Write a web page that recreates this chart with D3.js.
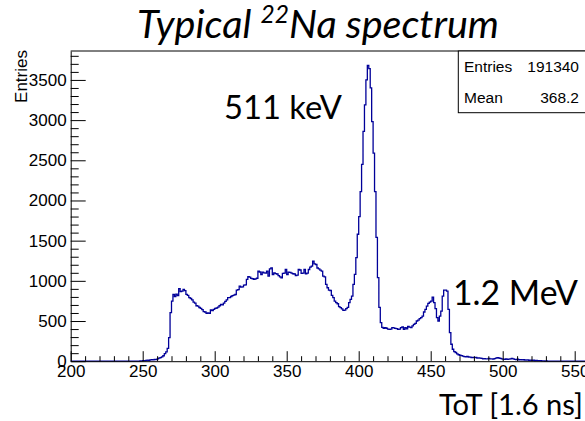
<!DOCTYPE html>
<html>
<head>
<meta charset="utf-8">
<script src="https://cdn.jsdelivr.net/npm/d3@7/dist/d3.min.js"></script>
<style>
  html, body { margin: 0; padding: 0; background: #ffffff; }
  svg { display: block; }
</style>
</head>
<body>
<svg id="chart" width="585" height="421"></svg>
<script>
// ToT histogram of a 22Na source, 1-unit bins from 200 to 600.
const binLow = 200;
const binHigh = 600;
const firstFilledBin = 246;
const counts = [
  2, 0, 3, 4, 6, 8, 10, 14, 12, 16,            // 246-255
  18, 17, 22, 20, 28, 38, 45, 55, 68, 95,      // 256-265
  115, 160, 294, 604, 748, 831, 805, 835, 815, 902,   // 266-275
  865, 872, 893, 878, 831, 818, 792, 780, 762, 736,   // 276-285
  722, 690, 686, 668, 658, 642, 617, 612, 596, 602,   // 286-295
  596, 637, 630, 645, 658, 662, 672, 690, 707, 700,   // 296-305
  722, 745, 762, 790, 792, 805, 815, 822, 830, 885,   // 306-315
  890, 934, 922, 926, 947, 950, 1017, 1051, 1045, 1030, // 316-325
  1026, 1020, 1025, 1032, 1120, 1110, 1079, 1108, 1100, 1095, // 326-335
  1120, 1058, 1150, 1162, 1079, 1100, 1090, 1085, 1066, 1050, // 336-345
  1038, 1092, 1095, 1141, 1079, 1108, 1105, 1095, 1088, 1085, // 346-355
  1066, 1070, 1141, 1135, 1092, 1095, 1141, 1088, 1095, 1141, // 356-365
  1170, 1183, 1245, 1210, 1203, 1160, 1150, 1133, 1120, 1058, // 366-375
  1050, 955, 914, 885, 880, 820, 790, 748, 728, 715,          // 376-385
  680, 666, 650, 633, 635, 655, 670, 728, 770, 810,           // 386-395
  955, 1080, 1290, 1580, 1800, 2110, 2450, 2860, 3190, 3500,  // 396-405
  3680, 3640, 3400, 2980, 2590, 2110, 1540, 1040, 670, 480,   // 406-415
  420, 410, 418, 410, 400, 397, 400, 418, 415, 408,           // 416-425
  405, 397, 400, 418, 428, 397, 418, 403, 432, 425,           // 426-435
  418, 440, 459, 471, 500, 512, 530, 542, 562, 612,           // 436-445
  645, 686, 720, 735, 748, 798, 728, 654, 542, 500,           // 446-455
  560, 624, 810, 885, 885, 872, 645, 356, 211, 149,           // 456-465
  120, 108, 90, 80, 74, 70, 62, 58, 55, 60,                   // 466-475
  52, 50, 46, 48, 44, 46, 40, 42, 38, 34,                     // 476-485
  30, 32, 28, 30, 34, 28, 30, 26, 32, 38,                     // 486-495
  45, 40, 35, 28, 26, 24, 28, 22, 25, 30,                     // 496-505
  35, 28, 22, 20, 24, 18, 20, 16, 18, 15,                     // 506-515
  14, 16, 12, 14, 10, 12, 9, 10, 8, 7,                        // 516-525
  6, 4, 3, 2, 3, 1, 0, 0, 0, 0,                               // 526-535
  0, 0, 0, 0, 0, 2, 0, 0, 0, 0,                               // 536-545
  1, 0, 0, 0, 0, 0, 0, 2, 0, 0                                // 546-555
];

const xMajorTicks = [200, 250, 300, 350, 400, 450, 500, 550];
const yMajorTicks = [0, 500, 1000, 1500, 2000, 2500, 3000, 3500];
const statsRows = [["Entries", "191340"], ["Mean", "368.2"]];
const titleParts = ["Typical ", "22", "Na spectrum"];
const peakLabels = ["511 keV", "1.2 MeV"];
const xTitle = "ToT [1.6 ns]";
const yTitle = "Entries";

// full bin content list 200..600
const bins = [];
for (let b = binLow; b < binHigh; b++) {
  const i = b - firstFilledBin;
  bins.push({ lo: b, hi: b + 1, n: (i >= 0 && i < counts.length) ? counts[i] : 0 });
}

const svg = d3.select("#chart");
svg.append("rect").attr("width", 585).attr("height", 421).attr("fill", "#ffffff");

const x = d3.scaleLinear().domain([binLow, binHigh]).range([70.7, 646.7]);
const y = d3.scaleLinear().domain([0, 3860]).range([361.2, 51]);

const rootFont = "'Liberation Sans', Arial, Helvetica, sans-serif";
const slideFont = "Lato, 'Open Sans', sans-serif";
const intFmt = d3.format("d");

// histogram outline, drawn as steps
const stepPts = [];
stepPts.push([x(binLow), y(0)]);
bins.forEach(d => {
  stepPts.push([x(d.lo), y(d.n)]);
  stepPts.push([x(d.hi), y(d.n)]);
});
stepPts.push([x(binHigh), y(0)]);
svg.append("path")
  .attr("d", d3.line()(stepPts))
  .attr("fill", "none")
  .attr("stroke", "#000099")
  .attr("stroke-width", 1.3)
  .attr("stroke-linejoin", "miter");

// frame top edge
svg.append("line")
  .attr("x1", x(binLow)).attr("x2", x(binHigh))
  .attr("y1", y(3860)).attr("y2", y(3860))
  .attr("stroke", "#000").attr("stroke-width", 1);

// x axis: minor ticks then major ticks with labels
const xMinor = d3.range(binLow, binHigh + 1, 10).filter(v => v % 50 !== 0);
svg.append("g")
  .attr("transform", `translate(0,${y(0)})`)
  .call(d3.axisBottom(x).tickValues(xMinor).tickSizeInner(-5).tickSizeOuter(0).tickFormat(""))
  .call(g => g.select(".domain").remove());
const gx = svg.append("g")
  .attr("transform", `translate(0,${y(0)})`)
  .call(d3.axisBottom(x).tickValues(xMajorTicks).tickFormat(intFmt)
    .tickSizeInner(-10).tickSizeOuter(0).tickPadding(4));
gx.selectAll("text").attr("font-family", rootFont).attr("font-size", 17).attr("fill", "#000");

// y axis
const yMinor = d3.range(0, 3801, 100).filter(v => v % 500 !== 0);
svg.append("g")
  .attr("transform", `translate(${x(binLow)},0)`)
  .call(d3.axisLeft(y).tickValues(yMinor).tickSizeInner(-8).tickSizeOuter(0).tickFormat(""))
  .call(g => g.select(".domain").remove());
const gy = svg.append("g")
  .attr("transform", `translate(${x(binLow)},0)`)
  .call(d3.axisLeft(y).tickValues(yMajorTicks).tickFormat(intFmt)
    .tickSizeInner(-15).tickSizeOuter(0).tickPadding(4));
gy.selectAll("text").attr("font-family", rootFont).attr("font-size", 17).attr("fill", "#000");

svg.selectAll(".tick line, .domain").attr("stroke", "#000").attr("stroke-width", 1);

// y axis title, aligned to the top of the axis
svg.append("text")
  .attr("transform", `translate(27,${y(3860) - 1}) rotate(-90)`)
  .attr("text-anchor", "end")
  .attr("font-family", rootFont)
  .attr("font-size", 17)
  .text(yTitle);

// statistics box
const sb = svg.append("g");
sb.append("rect")
  .attr("x", 458.3).attr("y", 51).attr("width", 200).attr("height", 61.7)
  .attr("fill", "#fff").attr("stroke", "#000").attr("stroke-width", 1);
statsRows.forEach((r, i) => {
  const cy = 51 + 61.7 * (i + 0.5) / statsRows.length;
  sb.append("text").attr("x", 464).attr("y", cy).attr("dy", "0.35em")
    .attr("font-family", rootFont).attr("font-size", 15.5).text(r[0]);
  sb.append("text").attr("x", 579).attr("y", cy).attr("dy", "0.35em")
    .attr("text-anchor", "end")
    .attr("font-family", rootFont).attr("font-size", 15.5).text(r[1]);
});

// scale a text element's font so that it spans the given width
function fitWidth(sel, width) {
  const base = parseFloat(sel.attr("font-size"));
  const w = sel.node().getComputedTextLength();
  sel.attr("font-size", base * width / w);
}

// slide annotations
const title = svg.append("text")
  .attr("x", 318).attr("y", 38)
  .attr("text-anchor", "middle")
  .attr("font-family", slideFont)
  .attr("font-style", "italic")
  .attr("font-size", 36)
  .attr("fill", "#000");
title.append("tspan").text(titleParts[0]);
title.append("tspan").attr("font-size", "0.62em").attr("dy", "-0.62em").text(titleParts[1]);
title.append("tspan").attr("dy", "0.385em").text(titleParts[2]);
fitWidth(title, 362);

const lab511 = svg.append("text")
  .attr("x", 342).attr("y", 119)
  .attr("text-anchor", "end")
  .attr("font-family", slideFont).attr("font-size", 34).attr("fill", "#000")
  .text(peakLabels[0]);
fitWidth(lab511, 118);

const lab12 = svg.append("text")
  .attr("x", 453).attr("y", 305)
  .attr("font-family", slideFont).attr("font-size", 34).attr("fill", "#000")
  .text(peakLabels[1]);
fitWidth(lab12, 125);

const xt = svg.append("text")
  .attr("x", 439).attr("y", 415)
  .attr("font-family", slideFont).attr("font-size", 28).attr("fill", "#000")
  .text(xTitle);
fitWidth(xt, 144);
</script>
</body>
</html>
